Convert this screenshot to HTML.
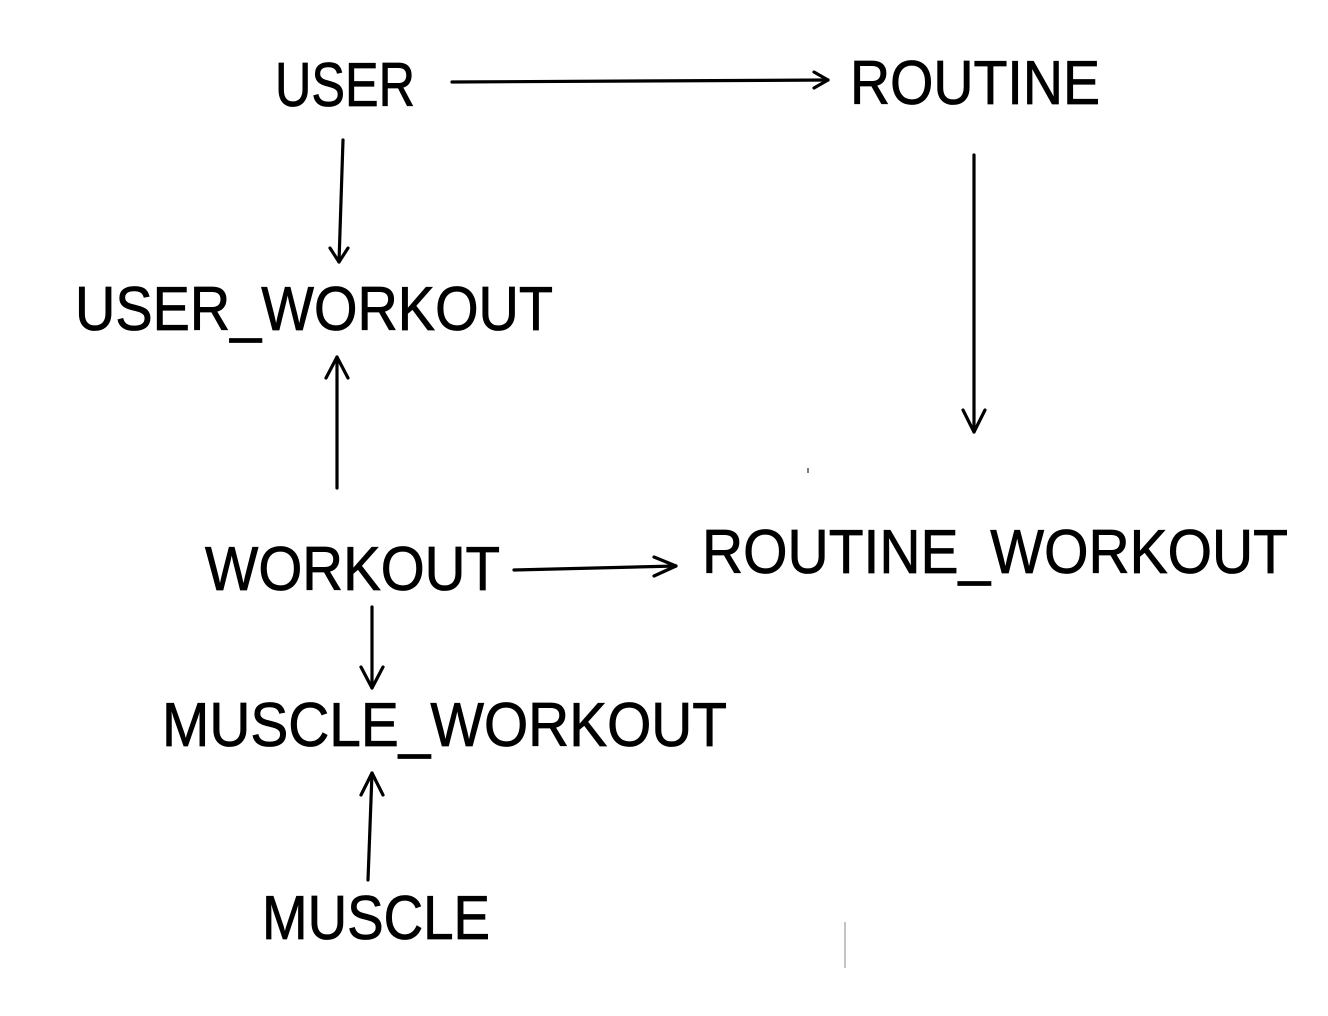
<!DOCTYPE html>
<html><head><meta charset="utf-8"><style>
html,body{margin:0;padding:0;background:#fff;}
svg{display:block}
</style></head><body>
<svg width="1328" height="1016" viewBox="0 0 1328 1016" xmlns="http://www.w3.org/2000/svg">
<rect width="1328" height="1016" fill="#fff"/>
<g font-family="Liberation Sans, sans-serif" font-size="62" fill="#000" stroke="#000" stroke-width="0.8">
<text x="275" y="106" textLength="140" lengthAdjust="spacingAndGlyphs">USER</text>
<text x="850" y="104" textLength="250" lengthAdjust="spacingAndGlyphs">ROUTINE</text>
<text x="75" y="330" textLength="478" lengthAdjust="spacingAndGlyphs">USER_WORKOUT</text>
<text x="205" y="590" textLength="295" lengthAdjust="spacingAndGlyphs">WORKOUT</text>
<text x="702" y="573" textLength="586" lengthAdjust="spacingAndGlyphs">ROUTINE_WORKOUT</text>
<text x="162" y="746" textLength="565" lengthAdjust="spacingAndGlyphs">MUSCLE_WORKOUT</text>
<text x="262" y="939" textLength="228" lengthAdjust="spacingAndGlyphs">MUSCLE</text>
</g>
<g stroke="#000" stroke-width="3.2" fill="none" stroke-linecap="round" stroke-linejoin="round">
<line x1="452" y1="82" x2="828" y2="80"/><polyline points="814,72 828,80 814,88"/>
<line x1="343" y1="140" x2="339" y2="262"/><polyline points="330,248 339,262 348,248"/>
<line x1="974" y1="155" x2="974" y2="432"/><polyline points="963,410 974,432 985,410"/>
<line x1="337" y1="488" x2="337" y2="357"/><polyline points="326,378 337,357 348,378"/>
<line x1="514" y1="570" x2="676" y2="566"/><polyline points="654,557 676,566 654,576"/>
<line x1="372" y1="607" x2="372" y2="688"/><polyline points="361,667 372,688 383,667"/>
<line x1="368" y1="880" x2="372" y2="773"/><polyline points="361,795 372,773 383,795"/>
</g>
<line x1="845" y1="922" x2="845" y2="968" stroke="#888" stroke-width="1"/>
<line x1="808" y1="468" x2="808" y2="473" stroke="#000" stroke-width="1"/>
</svg>
</body></html>
